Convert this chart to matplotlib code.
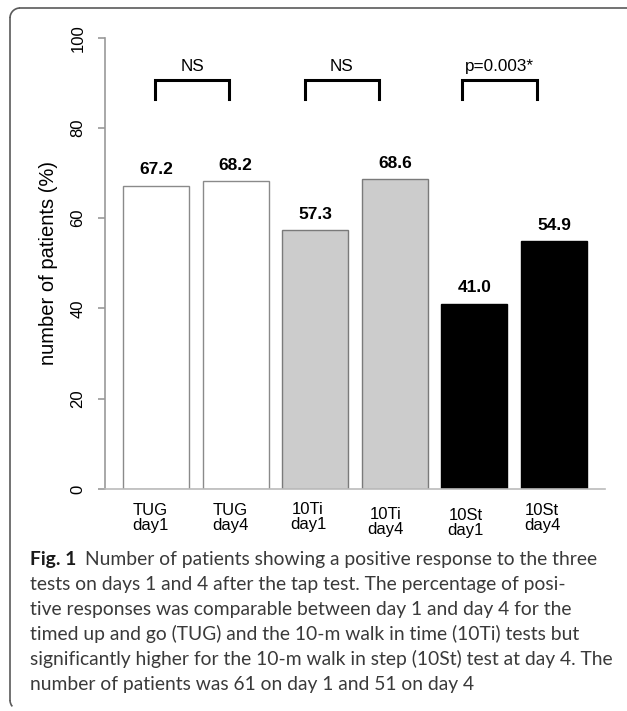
import numpy as np
import matplotlib
matplotlib.use("Agg")
import matplotlib.pyplot as plt
from matplotlib.patches import Arc

# data
labels = ["TUG\nday1", "TUG\nday4", "10Ti\nday1", "10Ti\nday4", "10St\nday1", "10St\nday4"]
values = [67.2, 68.2, 57.3, 68.6, 41.0, 54.9]
fills = ["white", "white", "#cccccc", "#cccccc", "black", "black"]
edges = ["#8a8a8a", "#8a8a8a", "#7a7a7a", "#7a7a7a", "black", "black"]
yticks = [0, 20, 40, 60, 80, 100]

# comparison brackets: left, right, text
brackets = [(-0.01, 0.92, "NS"), (1.87, 2.80, "NS"), (3.84, 4.79, "p=0.003*")]

caption_lines = [
    "tests on days 1 and 4 after the tap test. The percentage of posi-",
    "tive responses was comparable between day 1 and day 4 for the",
    "timed up and go (TUG) and the 10-m walk in time (10Ti) tests but",
    "significantly higher for the 10-m walk in step (10St) test at day 4. The",
    "number of patients was 61 on day 1 and 51 on day 4",
]

W, H = 627, 711
fig = plt.figure(figsize=(W / 100, H / 100), dpi=100)

# background layer in pixel coordinates (frame + caption)
bg = fig.add_axes([0, 0, 1, 1], zorder=0)
bg.set_xlim(0, W)
bg.set_ylim(H, 0)
bg.axis("off")
r = 10
fc = "#5a5a5a"
bg.plot([10 + r, W], [8, 8], color=fc, lw=1.2)
bg.plot([10, 10], [8 + r, 700], color=fc, lw=1.2)
bg.add_patch(Arc((10 + r, 8 + r), 2 * r, 2 * r, theta1=180, theta2=270, color=fc, lw=1.2))
bg.add_patch(Arc((10 + 10, 700), 20, 20, theta1=140, theta2=180, color=fc, lw=1.2))

cap_font = "Lato"
cap_size = 13.9
fig_lab = bg.text(30, 565, "Fig. 1", fontsize=cap_size, fontweight="bold", family=cap_font,
                  color="#1a1a1a", va="baseline", ha="left")
bg.annotate("Number of patients showing a positive response to the three",
            xy=(1, 0), xycoords=fig_lab, xytext=(6, 0), textcoords="offset points",
            fontsize=cap_size, family=cap_font, color="#3a3a3a", va="bottom", ha="left")
for i, line in enumerate(caption_lines):
    bg.text(30, 590 + 25 * i, line, fontsize=cap_size, family=cap_font,
            color="#3a3a3a", va="baseline", ha="left")

# main chart
ax = fig.add_axes([105 / W, (H - 489) / H, 500 / W, (489 - 37.7) / H], zorder=1)
ax.patch.set_alpha(0)
x = np.arange(len(values))
ax.bar(x, values, width=0.83, color=fills, edgecolor=edges, linewidth=1.0)
ax.set_xlim(-0.64, 5.64)
ax.set_ylim(0, 100)

font = "Liberation Sans"
for xi, v in zip(x, values):
    ax.text(xi, v + 1.9, f"{v:.1f}", ha="center", va="bottom", fontsize=12.5,
            fontweight="bold", family=font)

for x0, x1, txt in brackets:
    ax.plot([x0, x0, x1, x1], [86.4, 90.6, 90.6, 86.4], color="black", lw=2.2,
            solid_joinstyle="miter", clip_on=False)
    ax.text((x0 + x1) / 2, 93.6, txt, ha="center", va="center", fontsize=12.3, family=font)

# x labels with small nudges
nudge_x = [-0.07, -0.07, -0.09, -0.12, -0.11, -0.15]
nudge_y = [0, 0, -1, 4, 5, 0]
for xi, lab, dx, dy in zip(x, labels, nudge_x, nudge_y):
    ax.annotate(lab, (xi + dx, 0), xytext=(0, -10 - dy * 0.72), textcoords="offset points",
                ha="center", va="top", fontsize=12, family=font, linespacing=1.0,
                annotation_clip=False)

for s in ["top", "right"]:
    ax.spines[s].set_visible(False)
ax.spines["left"].set_color("#999999")
ax.spines["bottom"].set_color("#bbbbbb")
ax.spines["left"].set_linewidth(1.2)
ax.spines["bottom"].set_linewidth(1.2)
ax.set_xticks([])
ax.set_yticks(yticks)
ax.set_yticklabels([str(t) for t in yticks], rotation=90, va="center",
                   fontsize=12, family=font)
ax.tick_params(axis="y", length=5, width=1.2, color="#999999", pad=9)
ax.set_ylabel("number of patients (%)", fontsize=14.5, family=font, labelpad=9)

fig.savefig("out.png", dpi=100)
